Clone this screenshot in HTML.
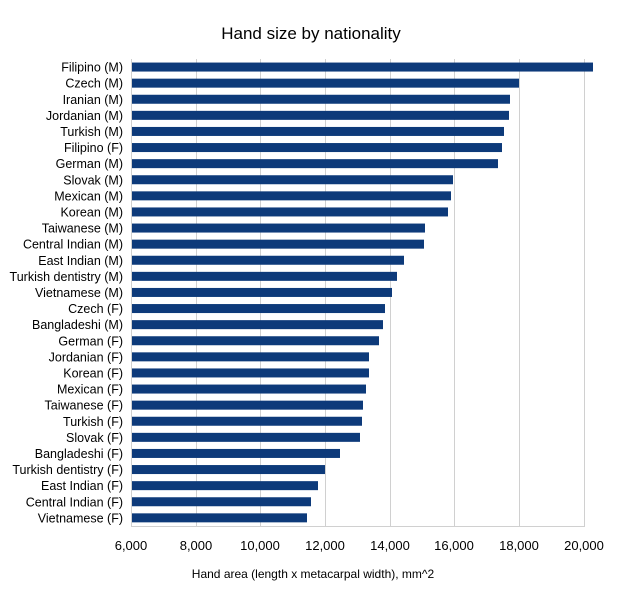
<!DOCTYPE html>
<html><head><meta charset="utf-8"><style>body{margin:0;background:#fff}svg{display:block}</style></head><body>
<svg width="622" height="600" xmlns="http://www.w3.org/2000/svg" font-family="Liberation Sans, sans-serif">
<rect width="622" height="600" fill="#fff"/>
<text x="311" y="39" font-size="17" text-anchor="middle" fill="#000">Hand size by nationality</text>
<g stroke="#d0d0d0" stroke-width="1">
<line x1="131.5" y1="59" x2="131.5" y2="526"/><line x1="196.5" y1="59" x2="196.5" y2="526"/><line x1="260.5" y1="59" x2="260.5" y2="526"/><line x1="325.5" y1="59" x2="325.5" y2="526"/><line x1="390.5" y1="59" x2="390.5" y2="526"/><line x1="454.5" y1="59" x2="454.5" y2="526"/><line x1="519.5" y1="59" x2="519.5" y2="526"/><line x1="584.5" y1="59" x2="584.5" y2="526"/>
<line x1="131" y1="526.5" x2="585" y2="526.5"/>
</g>
<g fill="#0d3a7a" id="bars"></g>
<g font-size="12.5" text-anchor="end" fill="#000" id="labels"></g>
<g font-size="13" text-anchor="middle" fill="#000">
<text x="131" y="550">6,000</text><text x="196" y="550">8,000</text><text x="260" y="550">10,000</text><text x="325" y="550">12,000</text><text x="390" y="550">14,000</text><text x="454" y="550">16,000</text><text x="519" y="550">18,000</text><text x="584" y="550">20,000</text>
</g>
<text x="313" y="578" font-size="12" text-anchor="middle" fill="#000">Hand area (length x metacarpal width), mm^2</text>
<script>
var d=[["Filipino (M)",593],["Czech (M)",519],["Iranian (M)",510],["Jordanian (M)",509],["Turkish (M)",504],["Filipino (F)",502],["German (M)",498],["Slovak (M)",453],["Mexican (M)",451],["Korean (M)",448],["Taiwanese (M)",425],["Central Indian (M)",424],["East Indian (M)",404],["Turkish dentistry (M)",397],["Vietnamese (M)",392],["Czech (F)",385],["Bangladeshi (M)",383],["German (F)",379],["Jordanian (F)",369],["Korean (F)",369],["Mexican (F)",366],["Taiwanese (F)",363],["Turkish (F)",362],["Slovak (F)",360],["Bangladeshi (F)",340],["Turkish dentistry (F)",325],["East Indian (F)",318],["Central Indian (F)",311],["Vietnamese (F)",307]];
var b=document.getElementById("bars"),l=document.getElementById("labels"),ns="http://www.w3.org/2000/svg";
d.forEach(function(r,i){var c=59+8.05+16.1*i;var e=document.createElementNS(ns,"rect");e.setAttribute("x",132);e.setAttribute("y",c-4.5);e.setAttribute("width",r[1]-132);e.setAttribute("height",9);b.appendChild(e);
var t=document.createElementNS(ns,"text");t.setAttribute("x",123);t.setAttribute("y",c+4.5);t.textContent=r[0];l.appendChild(t);});
</script>
</svg>
</body></html>
